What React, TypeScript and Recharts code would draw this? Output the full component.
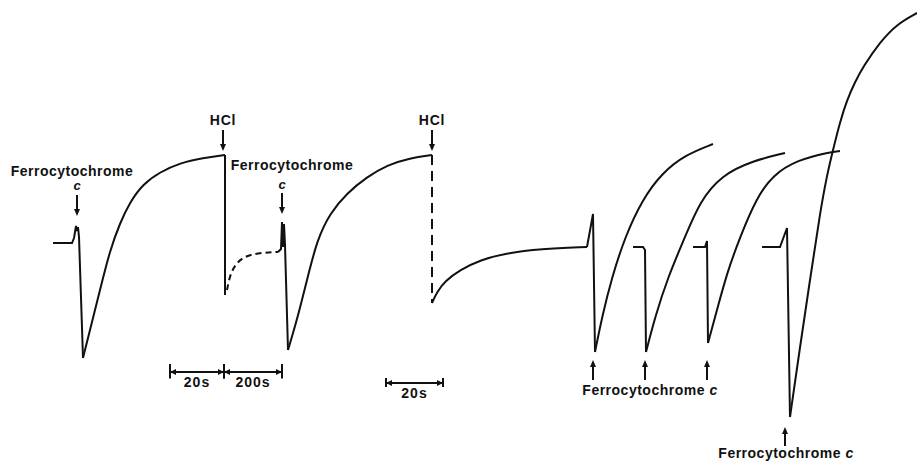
import React from 'react';
import { LineChart, Line, XAxis, YAxis, ReferenceDot, ReferenceLine } from 'recharts';

type Pt = { x: number; y: number };
const pts = (a: number[][]): Pt[] => a.map(([x, y]) => ({ x, y }));

// traces (x = time position, y = recorder deflection, downwards positive)
const trace1Spike = pts([[53, 243], [72, 243], [74, 238], [76, 226], [77, 231], [78, 227], [79, 237], [83, 358]]);
const trace1Rise = pts([[83, 358], [90, 330], [100, 290], [110, 250], [120, 223], [130, 202], [143, 184], [160, 172], [180, 163], [203, 158], [225, 155]]);
const hcl1Drop = pts([[225, 155], [225, 295]]);
const hcl1Recovery = pts([[227, 290], [230, 275], [235, 265], [243, 257], [257, 253], [278, 252]]);
const trace2Spike = pts([[278, 252], [281, 249], [282, 222], [283, 247], [284, 224], [285, 245], [288, 350]]);
const trace2Rise = pts([[288, 350], [297, 320], [307, 280], [317, 240], [330, 213], [347, 193], [367, 177], [387, 165], [410, 158], [432, 155]]);
const hcl2Drop = pts([[432, 155], [432, 303]]);
const hcl2Recovery = pts([[432, 303], [437, 292], [445, 281], [460, 270], [480, 260], [507, 253], [540, 249], [587, 247]]);
const traceASpike = pts([[587, 247], [593, 214], [595, 352]]);
const traceARise = pts([[595, 352], [602, 317], [612, 277], [625, 237], [642, 200], [662, 173], [685, 155], [713, 144]]);
const traceBSpike = pts([[633, 247], [643, 247], [645, 250], [646, 352]]);
const traceBRise = pts([[646, 352], [655, 317], [668, 277], [685, 237], [700, 201], [722, 175], [752, 161], [785, 153]]);
const traceCSpike = pts([[693, 247], [705, 247], [707, 241], [708, 343]]);
const traceCRise = pts([[708, 343], [717, 310], [727, 273], [740, 237], [757, 197], [773, 175], [797, 160], [830, 152], [840, 151]]);
const traceDSpike = pts([[762, 247], [780, 247], [787, 228], [790, 417]]);
const traceDRise = pts([[790, 417], [800, 347], [810, 280], [820, 213], [827, 175], [833, 150], [840, 122], [847, 100], [855, 82], [863, 67], [880, 42], [897, 24], [917, 13]]);

// annotations
const topLabels = [
  { x: 72, y: 176, text: 'Ferrocytochrome' },
  { x: 292, y: 170, text: 'Ferrocytochrome' },
];
const cLabels = [{ x: 77, y: 190 }, { x: 282, y: 189 }];
const hclLabels = [{ x: 223, y: 125 }, { x: 432, y: 125 }];
const downArrows = [
  { x: 77, from: 195, to: 216 },
  { x: 282, from: 193, to: 214 },
  { x: 223, from: 130, to: 151 },
  { x: 432, from: 130, to: 151 },
];
const upArrows = [
  { x: 593, from: 380, to: 360 },
  { x: 645, from: 380, to: 360 },
  { x: 707, from: 380, to: 360 },
  { x: 785, from: 446, to: 427 },
];
const bottomLabels = [{ x: 650, y: 395 }, { x: 786, y: 458 }];
const scaleBars = [
  { x1: 170, x2: 224, y: 372, text: '20s', tick: 8 },
  { x1: 224, x2: 282, y: 372, text: '200s', tick: 8 },
  { x1: 386, x2: 443, y: 383, text: '20s', tick: 5 },
];

const INK = '#111';
const FONT = '"Liberation Sans", Arial, sans-serif';

const textShape = (content: React.ReactNode, size = 14, spacing = 0.5) => (p: any) => (
  <text x={p.cx} y={p.cy} textAnchor="middle" fontFamily={FONT} fontWeight="bold" fontSize={size} letterSpacing={spacing} fill={INK}>
    {content}
  </text>
);

const head = (dir: 'down' | 'up') => (p: any) => {
  const { cx, cy } = p;
  const d = dir === 'down'
    ? `M${cx - 3},${cy - 7} L${cx + 3},${cy - 7} L${cx},${cy} Z`
    : `M${cx - 3},${cy + 7} L${cx + 3},${cy + 7} L${cx},${cy} Z`;
  return <path d={d} fill={INK} stroke="none" />;
};

const barEnd = (side: 'left' | 'right', tick: number) => (p: any) => {
  const { cx, cy } = p;
  const s = side === 'left' ? 1 : -1;
  return (
    <g>
      <line x1={cx} y1={cy - tick} x2={cx} y2={cy + tick * 0.8} stroke={INK} strokeWidth={2} />
      <path d={`M${cx},${cy} L${cx + s * 6},${cy - 3} L${cx + s * 6},${cy + 3} Z`} fill={INK} />
    </g>
  );
};

const series = [
  { data: trace1Spike, type: 'linear' },
  { data: trace1Rise, type: 'basis' },
  { data: hcl1Drop, type: 'linear' },
  { data: hcl1Recovery, type: 'basis', dash: '6 4' },
  { data: trace2Spike, type: 'linear' },
  { data: trace2Rise, type: 'basis' },
  { data: hcl2Drop, type: 'linear', dash: '10 6' },
  { data: hcl2Recovery, type: 'basis' },
  { data: traceASpike, type: 'linear' },
  { data: traceARise, type: 'basis' },
  { data: traceBSpike, type: 'linear' },
  { data: traceBRise, type: 'basis' },
  { data: traceCSpike, type: 'linear' },
  { data: traceCRise, type: 'basis' },
  { data: traceDSpike, type: 'linear' },
  { data: traceDRise, type: 'basis' },
];

export default function App() {
  return (
    <div style={{ position: 'absolute', left: 0, top: 0, background: '#fff' }}>
      <LineChart width={917} height={462} margin={{ top: 0, right: 0, bottom: 0, left: 0 }}>
        <XAxis type="number" dataKey="x" domain={[0, 917]} hide allowDataOverflow />
        <YAxis type="number" dataKey="y" domain={[0, 462]} reversed hide allowDataOverflow />
        {series.map((s, i) => (
          <Line
            key={i}
            data={s.data}
            dataKey="y"
            type={s.type as any}
            stroke={INK}
            strokeWidth={2}
            strokeDasharray={s.dash}
            dot={false}
            activeDot={false}
            isAnimationActive={false}
          />
        ))}
        {downArrows.map((a, i) => (
          <ReferenceLine key={`da${i}`} segment={[{ x: a.x, y: a.from }, { x: a.x, y: a.to - 4 }]} stroke={INK} strokeWidth={2} />
        ))}
        {downArrows.map((a, i) => (
          <ReferenceDot key={`dh${i}`} x={a.x} y={a.to} shape={head('down')} />
        ))}
        {upArrows.map((a, i) => (
          <ReferenceLine key={`ua${i}`} segment={[{ x: a.x, y: a.from }, { x: a.x, y: a.to + 4 }]} stroke={INK} strokeWidth={2} />
        ))}
        {upArrows.map((a, i) => (
          <ReferenceDot key={`uh${i}`} x={a.x} y={a.to} shape={head('up')} />
        ))}
        {scaleBars.map((b, i) => (
          <ReferenceLine key={`sb${i}`} segment={[{ x: b.x1, y: b.y }, { x: b.x2, y: b.y }]} stroke={INK} strokeWidth={2} />
        ))}
        {scaleBars.map((b, i) => (
          <ReferenceDot key={`sl${i}`} x={b.x1} y={b.y} shape={barEnd('left', b.tick)} />
        ))}
        {scaleBars.map((b, i) => (
          <ReferenceDot key={`sr${i}`} x={b.x2} y={b.y} shape={barEnd('right', b.tick)} />
        ))}
        {scaleBars.map((b, i) => (
          <ReferenceDot key={`st${i}`} x={(b.x1 + b.x2) / 2} y={b.y + 15} shape={textShape(b.text, 14, 1)} />
        ))}
        {topLabels.map((l, i) => (
          <ReferenceDot key={`tl${i}`} x={l.x} y={l.y} shape={textShape(l.text)} />
        ))}
        {cLabels.map((l, i) => (
          <ReferenceDot key={`cl${i}`} x={l.x} y={l.y} shape={textShape(<tspan fontStyle="italic">c</tspan>, 13, 0)} />
        ))}
        {hclLabels.map((l, i) => (
          <ReferenceDot key={`hl${i}`} x={l.x} y={l.y} shape={textShape('HCl', 14, 0.8)} />
        ))}
        {bottomLabels.map((l, i) => (
          <ReferenceDot
            key={`bl${i}`}
            x={l.x}
            y={l.y}
            shape={textShape(<>Ferrocytochrome <tspan fontStyle="italic">c</tspan></>)}
          />
        ))}
      </LineChart>
    </div>
  );
}
